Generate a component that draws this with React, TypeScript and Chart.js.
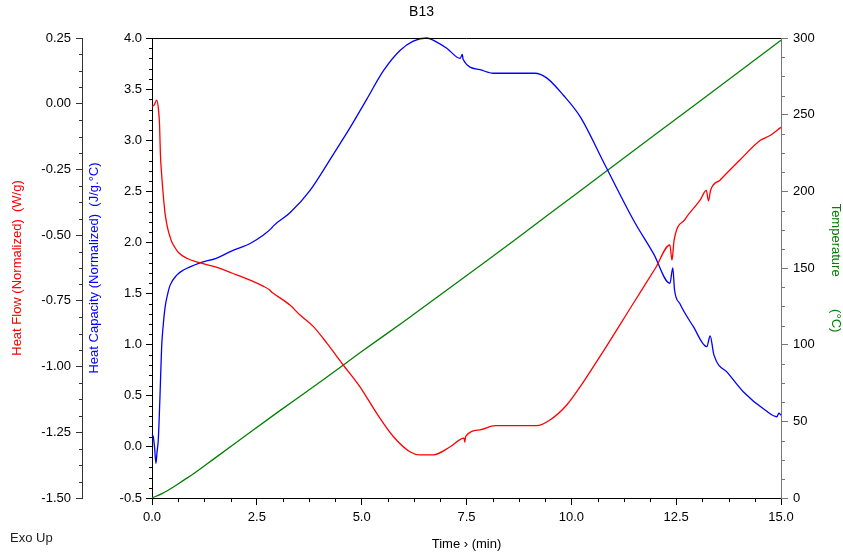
import React, { useEffect, useRef } from 'react';
import { Chart, registerables } from 'chart.js';

Chart.register(...registerables);

// ---------- texts ----------
const chartTitle = 'B13';
const xAxisTitle = 'Time \u203A (min)';
const heatFlowTitle = 'Heat Flow (Normalized)  (W/g)';
const heatCapTitle = 'Heat Capacity (Normalized)  (J/g.\u00B0C)';
const tempTitle = 'Temperature         (\u00B0C)';
const cornerNote = 'Exo Up';

// ---------- tick values ----------
const xTicks = [0, 2.5, 5, 7.5, 10, 12.5, 15];
const heatFlowTicks = [-1.5, -1.25, -1, -0.75, -0.5, -0.25, 0, 0.25];
const heatCapTicks = [-0.5, 0, 0.5, 1, 1.5, 2, 2.5, 3, 3.5, 4];
const tempTicks = [0, 50, 100, 150, 200, 250, 300];

// ---------- series: Heat Flow (W/g) ----------
const heatFlowTime = [
  0.0, 0.05, 0.11, 0.15, 0.18, 0.2, 0.23, 0.27, 0.31, 0.35, 0.39, 0.43, 0.47, 0.55, 0.63, 0.83,
  1.14, 1.53, 1.92, 2.34, 2.65, 2.8, 2.85, 2.89, 3.29, 3.53, 3.85, 4.17, 4.56, 4.96,
  5.36, 5.76, 6.15, 6.39, 6.71, 7.11, 7.44, 7.46, 7.48, 7.82, 8.18, 9.17, 9.49, 9.89,
  10.29, 10.68, 11.48, 12.0, 12.35, 12.4, 12.45, 12.71, 13.07, 13.22, 13.27, 13.32,
  13.55, 14.02, 14.5, 14.75, 15.0,
];
const heatFlow = [
  -0.01, -0.005, 0.014, -0.015, -0.08, -0.19, -0.27, -0.35, -0.415, -0.455, -0.485, -0.506, -0.525, -0.548, -0.566, -0.588,
  -0.605, -0.622, -0.645, -0.671, -0.694, -0.708, -0.716, -0.721, -0.766, -0.804, -0.848, -0.911, -0.994, -1.077,
  -1.178, -1.267, -1.324, -1.336, -1.336, -1.305, -1.272, -1.287, -1.266, -1.241, -1.225, -1.225, -1.203, -1.146,
  -1.058, -0.9625, -0.759, -0.627, -0.5375, -0.595, -0.52, -0.44, -0.367, -0.33, -0.37, -0.33,
  -0.29, -0.214, -0.14, -0.12, -0.09,
];

// ---------- series: Heat Capacity (J/g.°C) ----------
const heatCapTime = [
  0.0, 0.03, 0.06, 0.095, 0.12, 0.15, 0.19, 0.23, 0.27, 0.31, 0.37, 0.43, 0.59, 0.75,
  1.14, 1.53, 1.92, 2.34, 2.65, 2.85, 2.89, 3.29, 3.77, 4.32, 4.72, 5.12, 5.52, 5.92,
  6.23, 6.55, 6.79, 7.03, 7.35, 7.4, 7.42, 7.82, 8.14, 9.13, 9.41, 9.81, 10.21, 10.8,
  11.48, 11.96, 12.35, 12.42, 12.46, 12.59, 12.91, 13.23, 13.31, 13.4, 13.74, 14.1,
  14.62, 14.9, 14.95, 15.0,
];
const heatCap = [
  0.12, 0.1, 0.0, -0.16, -0.05, 0.07, 0.49, 0.98, 1.2, 1.36, 1.49, 1.58, 1.68, 1.73,
  1.8, 1.845, 1.92, 1.99, 2.07, 2.14, 2.16, 2.29, 2.51, 2.86, 3.12, 3.4, 3.68, 3.88,
  3.97, 4.0, 3.96, 3.9, 3.8, 3.84, 3.79, 3.69, 3.655, 3.655, 3.61, 3.44, 3.23, 2.76,
  2.22, 1.89, 1.6, 1.75, 1.54, 1.4, 1.176, 0.98, 1.085, 0.9, 0.72, 0.54,
  0.36, 0.295, 0.33, 0.31,
];

// ---------- series: Temperature (°C) ----------
const tempTime = [0, 0.25, 0.5, 0.75, 1, 1.5, 2, 3, 4, 5, 6, 7, 8, 9, 10, 11, 12, 13, 14, 15];
const temperature = [0, 3, 7, 11.5, 16, 26, 36, 56, 75.5, 95.5, 115, 135, 155, 175.5, 196, 216.5, 237, 257.5, 278, 298.5];

const FONT = '"Liberation Sans", Arial, Helvetica, sans-serif';

const toPoints = (xs: number[], ys: number[]) => xs.map((x, i) => ({ x, y: ys[i] }));

const decorPlugin = {
  id: 'decor',
  afterDraw(chart: any) {
    const ctx = chart.ctx;
    const area = chart.chartArea;
    ctx.save();
    // top frame line
    ctx.strokeStyle = '#000';
    ctx.lineWidth = 1;
    ctx.beginPath();
    ctx.moveTo(area.left, Math.round(area.top) + 0.5);
    ctx.lineTo(area.right, Math.round(area.top) + 0.5);
    ctx.stroke();

    // minor ticks
    const defs = [
      { id: 'x', sub: 4, len: 4, color: '#000' },
      { id: 'yHF', sub: 4, len: 3, color: '#333' },
      { id: 'yHC', sub: 5, len: 3, color: '#000' },
      { id: 'yT', sub: 4, len: 4, color: '#777' },
    ];
    for (const d of defs) {
      const s = chart.scales[d.id];
      if (!s) continue;
      const vals = s.ticks.map((t: any) => t.value);
      ctx.strokeStyle = d.color;
      ctx.beginPath();
      for (let i = 0; i < vals.length - 1; i++) {
        const step = (vals[i + 1] - vals[i]) / d.sub;
        for (let k = 1; k < d.sub; k++) {
          const p = Math.round(s.getPixelForValue(vals[i] + k * step)) + 0.5;
          if (d.id === 'x') {
            ctx.moveTo(p, s.top);
            ctx.lineTo(p, s.top + d.len);
          } else if (s.position === 'left') {
            ctx.moveTo(s.right, p);
            ctx.lineTo(s.right - d.len, p);
          } else {
            ctx.moveTo(s.left, p);
            ctx.lineTo(s.left + d.len, p);
          }
        }
      }
      ctx.stroke();
    }

    // corner note
    ctx.fillStyle = '#222';
    ctx.font = `13px ${FONT}`;
    ctx.textAlign = 'left';
    ctx.textBaseline = 'middle';
    ctx.fillText(cornerNote, 10, chart.height - 16);
    ctx.restore();
  },
};

export default function App() {
  const ref = useRef<HTMLCanvasElement | null>(null);

  useEffect(() => {
    if (!ref.current) return;
    const tickFont = { family: FONT, size: 13 };
    const titleFont = { family: FONT, size: 13 };

    const chart = new Chart(ref.current, {
      type: 'line',
      data: {
        datasets: [
          {
            label: 'Heat Flow',
            data: toPoints(heatFlowTime, heatFlow),
            yAxisID: 'yHF',
            borderColor: '#ff0000',
            borderWidth: 1.3,
            pointRadius: 0,
            cubicInterpolationMode: 'monotone',
            clip: false,
          },
          {
            label: 'Heat Capacity',
            data: toPoints(heatCapTime, heatCap),
            yAxisID: 'yHC',
            borderColor: '#0000ff',
            borderWidth: 1.3,
            pointRadius: 0,
            cubicInterpolationMode: 'monotone',
            clip: false,
          },
          {
            label: 'Temperature',
            data: toPoints(tempTime, temperature),
            yAxisID: 'yT',
            borderColor: '#008000',
            borderWidth: 1.3,
            pointRadius: 0,
            cubicInterpolationMode: 'monotone',
            clip: false,
          },
        ],
      },
      options: {
        animation: false,
        responsive: false,
        maintainAspectRatio: false,
        devicePixelRatio: 1,
        layout: { padding: 0 },
        plugins: {
          legend: { display: false },
          tooltip: { enabled: false },
          title: {
            display: true,
            text: chartTitle,
            color: '#000',
            font: { family: FONT, size: 14, weight: 'normal' },
            padding: { top: 4, bottom: 17.2 },
          },
        },
        scales: {
          x: {
            type: 'linear',
            position: 'bottom',
            min: 0,
            max: 15,
            afterBuildTicks: (s: any) => {
              s.ticks = xTicks.map((v) => ({ value: v }));
            },
            afterFit: (s: any) => {
              s.height = 56;
            },
            ticks: {
              color: '#000',
              font: tickFont,
              padding: 5,
              maxRotation: 0,
              callback: (v: any) => Number(v).toFixed(1),
            },
            grid: { drawOnChartArea: false, tickLength: 7, tickColor: '#000' },
            border: { color: '#000', width: 1 },
            title: {
              display: true,
              text: xAxisTitle,
              color: '#000',
              font: titleFont,
              padding: { top: 0, bottom: 2 },
            },
          },
          yHF: {
            type: 'linear',
            position: 'left',
            weight: 2,
            min: -1.5,
            max: 0.25,
            afterBuildTicks: (s: any) => {
              s.ticks = heatFlowTicks.map((v) => ({ value: v }));
            },
            afterFit: (s: any) => {
              s.width = 82;
            },
            ticks: {
              color: '#000',
              font: tickFont,
              padding: 5,
              callback: (v: any) => Number(v).toFixed(2),
            },
            grid: { drawOnChartArea: false, tickLength: 6, tickColor: '#333' },
            border: { color: '#333', width: 1 },
            title: {
              display: true,
              text: heatFlowTitle,
              color: '#ff0000',
              font: titleFont,
              padding: { top: 10, bottom: 0 },
            },
          },
          yHC: {
            type: 'linear',
            position: 'left',
            weight: 1,
            min: -0.5,
            max: 4.0,
            afterBuildTicks: (s: any) => {
              s.ticks = heatCapTicks.map((v) => ({ value: v }));
            },
            afterFit: (s: any) => {
              s.width = 70;
            },
            ticks: {
              color: '#000',
              font: tickFont,
              padding: 4,
              callback: (v: any) => Number(v).toFixed(1),
            },
            grid: { drawOnChartArea: false, tickLength: 6, tickColor: '#000' },
            border: { color: '#000', width: 1 },
            title: {
              display: true,
              text: heatCapTitle,
              color: '#0000ff',
              font: titleFont,
              padding: { top: 5, bottom: 0 },
            },
          },
          yT: {
            type: 'linear',
            position: 'right',
            min: 0,
            max: 300,
            afterBuildTicks: (s: any) => {
              s.ticks = tempTicks.map((v) => ({ value: v }));
            },
            afterFit: (s: any) => {
              s.width = 62;
            },
            ticks: {
              color: '#000',
              font: tickFont,
              padding: 5,
              callback: (v: any) => String(Math.round(Number(v))),
            },
            grid: { drawOnChartArea: false, tickLength: 7, tickColor: '#777' },
            border: { color: '#777', width: 1 },
            title: {
              display: true,
              text: tempTitle,
              color: '#008000',
              font: titleFont,
              padding: { top: 0, bottom: 0 },
            },
          },
        },
      } as any,
      plugins: [decorPlugin],
    });

    return () => chart.destroy();
  }, []);

  return (
    <div style={{ position: 'fixed', left: 0, top: 0, width: 843, height: 554, background: '#fff' }}>
      <canvas ref={ref} width={843} height={554} style={{ width: 843, height: 554, display: 'block' }} />
    </div>
  );
}
